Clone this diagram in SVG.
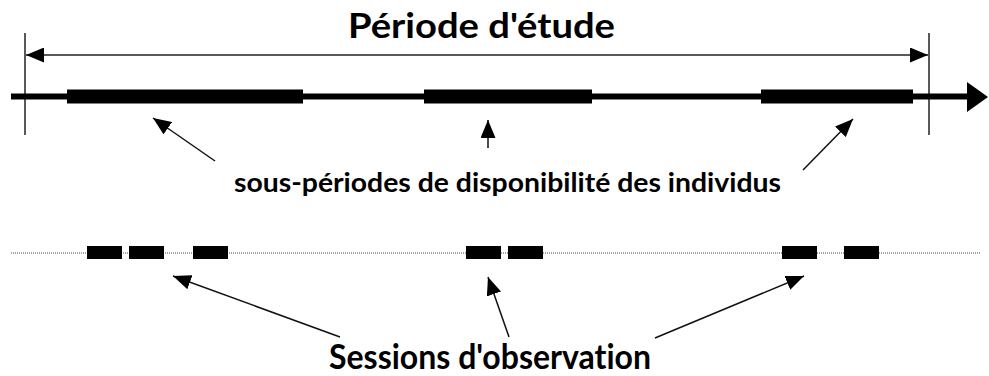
<svg xmlns="http://www.w3.org/2000/svg" width="989" height="376" viewBox="0 0 989 376">
<defs>
<marker id="ah" markerUnits="userSpaceOnUse" markerWidth="18" markerHeight="15" refX="18" refY="7.5" orient="auto-start-reverse" viewBox="0 0 18 15">
<path d="M0,0 L18,7.5 L0,15 z" fill="#000"/>
</marker>
<style>
.lbl{font-family:Lato,"Open Sans","Liberation Sans",sans-serif;font-weight:bold;fill:#000;font-variant-ligatures:none}
.thin{stroke:#222;stroke-width:1.5;fill:none}
.ptr{stroke:#111;stroke-width:1.5;fill:none;marker-end:url(#ah)}
.bar{fill:#000}
.dot{stroke:#444;stroke-width:1;stroke-dasharray:1 1;fill:none}
</style>
</defs>
<rect width="989" height="376" fill="#fff"/>
<g id="title">
<text class="lbl" x="481.5" y="38" font-size="34" text-anchor="middle" textLength="267" lengthAdjust="spacingAndGlyphs">Période d'étude</text>
</g>
<g id="bounds">
<line class="thin" x1="25" y1="33" x2="25" y2="135"/>
<line class="thin" x1="929" y1="33" x2="929" y2="135"/>
<line class="thin" x1="26" y1="55" x2="928" y2="55" marker-start="url(#ah)" marker-end="url(#ah)"/>
</g>
<g id="timeline">
<line x1="11" y1="96.5" x2="970" y2="96.5" stroke="#000" stroke-width="6"/>
<polygon points="967,82 988,97 967,112" fill="#000"/>
<rect class="bar" x="67" y="89.5" width="236" height="14"/>
<rect class="bar" x="424" y="89.5" width="168" height="14"/>
<rect class="bar" x="761" y="89.5" width="152" height="14"/>
</g>
<g id="sessions">
<line class="dot" x1="11" y1="253" x2="980" y2="253"/>
<rect class="bar" x="87" y="246" width="35" height="13"/>
<rect class="bar" x="129" y="246" width="35" height="13"/>
<rect class="bar" x="193" y="246" width="35" height="13"/>
<rect class="bar" x="466" y="246" width="35" height="13"/>
<rect class="bar" x="508" y="246" width="35" height="13"/>
<rect class="bar" x="782" y="246" width="35" height="13"/>
<rect class="bar" x="844" y="246" width="35" height="13"/>
</g>
<g id="sous-periodes-label">
<text class="lbl" x="507.5" y="192" font-size="26" text-anchor="middle" textLength="547" lengthAdjust="spacingAndGlyphs">sous-périodes de disponibilité des individus</text>
</g>
<g id="sessions-label">
<text class="lbl" x="490" y="369" font-size="34" text-anchor="middle" textLength="322" lengthAdjust="spacingAndGlyphs">Sessions d'observation</text>
</g>
<g id="connectors">
<line class="ptr" x1="215" y1="161" x2="153" y2="118"/>
<line class="ptr" x1="488" y1="148" x2="488" y2="120"/>
<line class="ptr" x1="803" y1="170" x2="853" y2="119"/>
<line class="ptr" x1="340" y1="337" x2="173" y2="276"/>
<line class="ptr" x1="509" y1="337" x2="488" y2="277"/>
<line class="ptr" x1="655" y1="338" x2="804" y2="276"/>
</g>
</svg>
